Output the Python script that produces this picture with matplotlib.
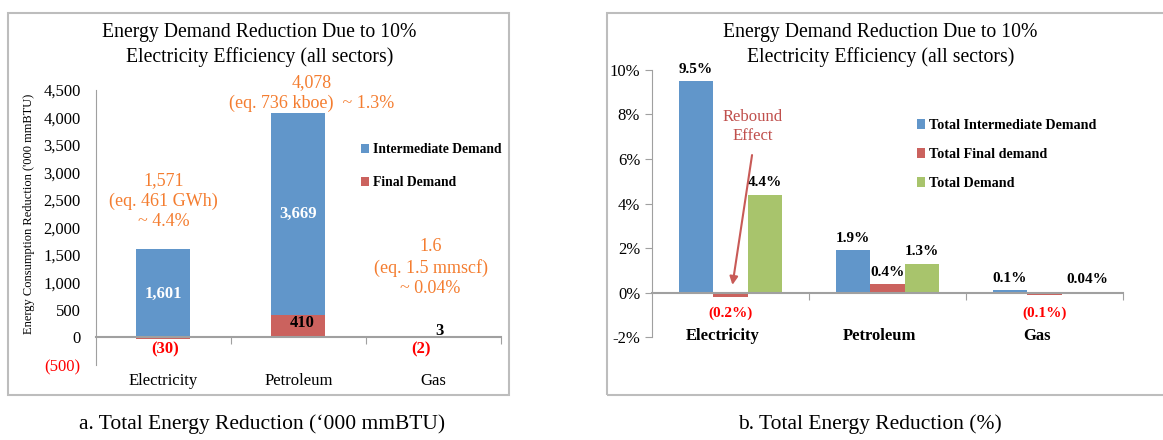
import numpy as np
import matplotlib.pyplot as plt
from matplotlib.patches import Rectangle

plt.rcParams['font.family'] = ['Liberation Serif', 'DejaVu Serif']

# ---- data ----
categories = ['Electricity', 'Petroleum', 'Gas']

# panel a ('000 mmBTU)
final_demand = [-30, 410, -2]
intermediate_demand = [1601, 3669, 3]
inter_labels = ['1,601', '3,669', '3']
final_labels = ['(30)', '410', '(2)']
total_notes = ['1,571\n(eq. 461 GWh)\n~ 4.4%',
               '4,078\n(eq. 736 kboe)  ~ 1.3%',
               '1.6\n(eq. 1.5 mmscf)\n~ 0.04%']
yticks_a = [-500, 0, 500, 1000, 1500, 2000, 2500, 3000, 3500, 4000, 4500]

# panel b (%)
pct_intermediate = [9.5, 1.9, 0.1]
pct_final = [-0.2, 0.4, -0.1]
pct_total = [4.4, 1.3, 0.04]
pct_inter_labels = ['9.5%', '1.9%', '0.1%']
pct_final_labels = ['(0.2%)', '0.4%', '(0.1%)']
pct_total_labels = ['4.4%', '1.3%', '0.04%']
yticks_b = [-2, 0, 2, 4, 6, 8, 10]

blue = '#6196CA'
red = '#CB625E'
green = '#A8C46C'
orange = '#F47D30'
title = 'Energy Demand Reduction Due to 10%\nElectricity Efficiency (all sectors)'

fig = plt.figure(figsize=(11.63, 4.4), dpi=100)

# panel frames
fig.patches.append(Rectangle((0.0069, 0.102), 0.431, 0.868, transform=fig.transFigure,
                             fill=False, edgecolor='#BDBDBD', lw=1.5))
fig.patches.append(Rectangle((0.522, 0.102), 0.5, 0.868, transform=fig.transFigure,
                             fill=False, edgecolor='#BDBDBD', lw=1.5))

# ---------------- panel a ----------------
ax = fig.add_axes([0.0825, 0.1705, 0.348, 0.625])
x = np.arange(len(categories))
w = 0.4
base = [max(v, 0) for v in final_demand]
ax.bar(x, final_demand, w, color=red, label='Final Demand', zorder=2)
ax.bar(x, intermediate_demand, w, bottom=base, color=blue, label='Intermediate Demand', zorder=2)
ax.set_xlim(-0.5, 2.5)
ax.set_ylim(-500, 4500)
ax.set_yticks(yticks_a)
ax.set_yticklabels(['(500)'] + [f'{v:,}' for v in yticks_a[1:]], fontsize=12)
ax.get_yticklabels()[0].set_color('red')
ax.tick_params(axis='y', length=0, pad=11)
for s in ['top', 'right']:
    ax.spines[s].set_visible(False)
ax.spines['left'].set_color('#A0A0A0')
ax.spines['bottom'].set_position(('data', 0))
ax.spines['bottom'].set_color('#A0A0A0')
ax.spines['bottom'].set_linewidth(1.5)
ax.set_xticks([0.5, 1.5, 2.5])
ax.set_xticklabels([])
ax.tick_params(axis='x', direction='out', length=5, color='#A0A0A0')
for i, c in enumerate(categories):
    ax.text(i, -0.06, c, transform=ax.get_xaxis_transform(), ha='center', va='center', fontsize=12)
ax.set_ylabel("Energy Consumption Reduction ('000 mmBTU)", fontsize=9)
ax.yaxis.set_label_coords(-0.15, 0.55)

# value labels
ax.text(0, 800, inter_labels[0], color='white', fontweight='bold', ha='center', va='center', fontsize=12)
ax.text(1, 2240, inter_labels[1], color='white', fontweight='bold', ha='center', va='center', fontsize=12)
ax.text(2.05, 120, inter_labels[2], color='black', fontweight='bold', ha='center', va='center', fontsize=12)
ax.text(1.03, 260, final_labels[1], color='black', fontweight='bold', ha='center', va='center', fontsize=12)
ax.text(0.01, -220, final_labels[0], color='red', fontweight='bold', ha='center', va='center', fontsize=12)
ax.text(1.91, -220, final_labels[2], color='red', fontweight='bold', ha='center', va='center', fontsize=12)

# total notes
ax.text(0.0, 2480, total_notes[0], color=orange, ha='center', va='center', fontsize=13, linespacing=1.25)
ax.text(1.1, 4440, total_notes[1], color=orange, ha='center', va='center', fontsize=13, linespacing=1.25)
ax.text(1.98, 1270, total_notes[2], color=orange, ha='center', va='center', fontsize=13, linespacing=1.25)

h, l = ax.get_legend_handles_labels()
ax.legend(h[::-1], l[::-1], loc='upper left', bbox_to_anchor=(0.625, 0.85), frameon=False,
          prop={'weight': 'bold', 'size': 9.8}, handlelength=0.6, handleheight=0.7,
          handletextpad=0.25, labelspacing=1.45)
fig.text(0.223, 0.898, title, ha='center', va='center', fontsize=14.2, linespacing=1.32)

# ---------------- panel b ----------------
bx = fig.add_axes([0.5606, 0.234, 0.405, 0.607])
bw = 0.22
bx.bar(x - bw, pct_intermediate, bw, color=blue, label='Total Intermediate Demand', zorder=2)
bx.bar(x, pct_final, bw, color=red, label='Total Final demand', zorder=2)
bx.bar(x + bw, pct_total, bw, color=green, label='Total Demand', zorder=2)
bx.set_xlim(-0.5, 2.5)
bx.set_ylim(-2, 10)
bx.set_yticks(yticks_b)
bx.set_yticklabels([f'{v}%' for v in yticks_b], fontsize=12)
bx.tick_params(axis='y', direction='out', length=5, color='#A0A0A0')
for s in ['top', 'right']:
    bx.spines[s].set_visible(False)
bx.spines['left'].set_color('#A0A0A0')
bx.spines['bottom'].set_position(('data', 0))
bx.spines['bottom'].set_color('#A0A0A0')
bx.spines['bottom'].set_linewidth(1.5)
bx.set_xticks([0.5, 1.5, 2.5])
bx.set_xticklabels([])
bx.tick_params(axis='x', direction='out', length=5, color='#A0A0A0')
for i, c in enumerate(categories):
    bx.text(i - 0.05, -1.95, c, ha='center', va='center', fontsize=12, fontweight='bold')

for i in range(3):
    bx.text(i - bw, pct_intermediate[i] + 0.25, pct_inter_labels[i], ha='center', va='bottom',
            fontsize=11, fontweight='bold')
    bx.text(i + bw + (0.05 if i == 2 else 0), pct_total[i] + 0.25, pct_total_labels[i], ha='center',
            va='bottom', fontsize=11, fontweight='bold')
bx.text(0, -0.95, pct_final_labels[0], ha='center', va='center', fontsize=11, fontweight='bold', color='red')
bx.text(2, -0.95, pct_final_labels[2], ha='center', va='center', fontsize=11, fontweight='bold', color='red')
bx.text(1, pct_final[1] + 0.2, pct_final_labels[1], ha='center', va='bottom', fontsize=11, fontweight='bold')

# rebound effect arrow
bx.text(0.14, 7.45, 'Rebound\nEffect', color='#C0504D', ha='center', va='center', fontsize=12, linespacing=1.25)
bx.annotate('', xy=(0.01, 0.22), xytext=(0.14, 6.3),
            arrowprops=dict(arrowstyle='-|>', color='#C85A57', lw=1.5, mutation_scale=12))

bx.legend(loc='upper left', bbox_to_anchor=(0.535, 0.865), frameon=False,
          prop={'weight': 'bold', 'size': 10.2}, handlelength=0.6, handleheight=0.7,
          handletextpad=0.3, labelspacing=1.15)
fig.text(0.757, 0.898, title, ha='center', va='center', fontsize=14.2, linespacing=1.32)

# captions
fig.text(0.225, 0.035, "a. Total Energy Reduction (\u2018000 mmBTU)", ha='center', va='center', fontsize=15.5)
fig.text(0.748, 0.037, "b. Total Energy Reduction (%)", ha='center', va='center', fontsize=15.5)

fig.savefig('out.png', dpi=100)
